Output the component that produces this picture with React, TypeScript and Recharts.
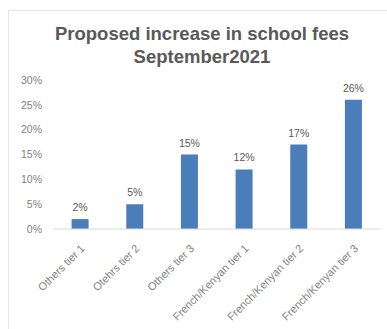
import { BarChart, Bar, XAxis, YAxis, LabelList } from 'recharts'

const categories = [
  'Others tier 1',
  'Otehrs tier 2',
  'Others tier 3',
  'French/Kenyan tier 1',
  'French/Kenyan tier 2',
  'French/Kenyan tier 3',
]
const increases = [2, 5, 15, 12, 17, 26]
const yTicks = [0, 5, 10, 15, 20, 25, 30]

const data = categories.map((name, i) => ({ name, value: increases[i] }))

const FONT = '"Liberation Sans", Arial, sans-serif'
const TEXT_GREY = '#595959'
const AXIS_GREY = '#7f7f7f'

// rotated category labels, anchored at the end like Excel does
const AngledTick = (props: any) => {
  const { x, y, payload } = props
  return (
    <g transform={`translate(${x + 3},${y + 10})`}>
      <text
        transform="rotate(-45)"
        textAnchor="end"
        dominantBaseline="middle"
        fill={AXIS_GREY}
        fontSize={11}
        fontFamily={FONT}
      >
        {payload.value}
      </text>
    </g>
  )
}

export default function App() {
  return (
    <div
      style={{
        position: 'absolute',
        left: 0,
        top: 0,
        width: 387,
        height: 329,
        overflow: 'hidden',
        background: '#fff',
        fontFamily: FONT,
      }}
    >
      {/* chart frame, only top/left edges show in the crop */}
      <div
        style={{
          position: 'absolute',
          left: 8,
          top: 10,
          width: 400,
          height: 340,
          borderTop: '1px solid #e4e4e4',
          borderLeft: '1px solid #e4e4e4',
        }}
      />
      <div
        style={{
          position: 'absolute',
          left: 0,
          top: 22,
          width: 404,
          textAlign: 'center',
          color: TEXT_GREY,
          fontWeight: 'bold',
          fontSize: 18.5,
          lineHeight: '23px',
        }}
      >
        Proposed increase in school fees
        <br />
        September2021
      </div>
      <div style={{ position: 'absolute', left: 0, top: 0 }}>
        <BarChart
          width={387}
          height={329}
          data={data}
          margin={{ top: 80, right: 6, bottom: 0, left: 0 }}
          barCategoryGap="34%"
        >
          <XAxis
            dataKey="name"
            interval={0}
            height={100}
            axisLine={{ stroke: '#d9d9d9' }}
            tickLine={false}
            tick={<AngledTick />}
          />
          <YAxis
            width={53}
            domain={[0, 30]}
            ticks={yTicks}
            axisLine={false}
            tickLine={false}
            tickMargin={5}
            tickFormatter={(v) => `${v}%`}
            tick={{ fill: AXIS_GREY, fontSize: 10.5, fontFamily: FONT }}
          />
          <Bar dataKey="value" fill="#4a7ebb" isAnimationActive={false}>
            <LabelList
              dataKey="value"
              position="top"
              offset={8}
              formatter={(v: any) => `${v}%`}
              fill={TEXT_GREY}
              fontSize={10.5}
              fontFamily={FONT}
            />
          </Bar>
        </BarChart>
      </div>
    </div>
  )
}
